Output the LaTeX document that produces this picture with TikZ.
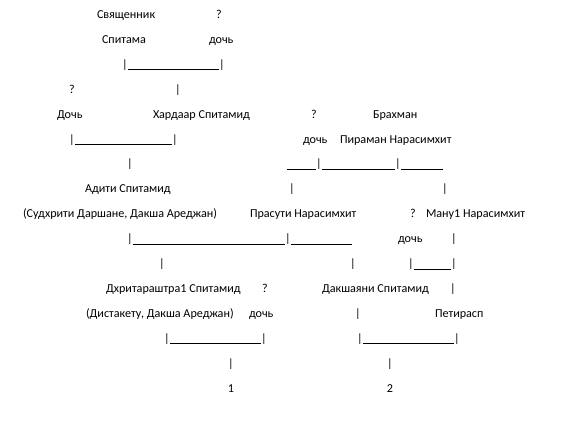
\documentclass[tikz,border=0pt]{standalone}
\usepackage{fontspec}
\setmainfont{Carlito}
\begin{document}
\begin{tikzpicture}[x=0.75pt,y=-0.75pt,
  every node/.style={inner sep=0pt,outer sep=0pt,font=\fontsize{9.1pt}{11pt}\selectfont},
  lbl/.style={anchor=base west},
  bar/.style={anchor=base},
  rul/.style={line width=0.6pt,black}]
\useasboundingbox[fill=white] (0,0) rectangle (582,428);
% row 1
\node[lbl] (svy) at (97,18.5) {Священник};
\node[bar] (q1) at (219,18.5) {?};
% row 2
\node[lbl] (spit) at (102,43.4) {Спитама};
\node[lbl] (doch1) at (209,43.4) {дочь};
% row 3
\node[bar] (p3a) at (125,68.3) {|};
\node[bar] (p3b) at (222,68.3) {|};
% row 4
\node[bar] (q2) at (72,93.2) {?};
\node[bar] (p4) at (178,93.2) {|};
% row 5
\node[lbl] (doch2) at (57,118.1) {Дочь};
\node[lbl] (hard) at (153,118.1) {Хардаар Спитамид};
\node[bar] (q3) at (314,118.1) {?};
\node[lbl] (brah) at (373,118.1) {Брахман};
% row 6
\node[bar] (p6a) at (72,143) {|};
\node[bar] (p6b) at (175,143) {|};
\node[lbl] (doch3) at (303,143) {дочь};
\node[lbl] (pir) at (340,143) {Пираман Нарасимхит};
% row 7
\node[bar] (p7a) at (130,167.9) {|};
\coordinate (c7s) at (287,167.9);
\node[bar] (p7b) at (319,167.9) {|};
\node[bar] (p7c) at (398,167.9) {|};
\coordinate (c7e) at (443,167.9);
% row 8
\node[lbl] (adi) at (85,192.8) {Адити Спитамид};
\node[bar] (p8a) at (292,192.8) {|};
\node[bar] (p8b) at (445,192.8) {|};
% row 9
\node[lbl] (sud) at (23,217.7) {(Судхрити Даршане, Дакша Ареджан)};
\node[lbl] (pras) at (250,217.7) {Прасути Нарасимхит};
\node[bar] (q4) at (413,217.7) {?};
\node[lbl] (manu) at (426,217.7) {Ману1 Нарасимхит};
% row 10
\node[bar] (p10a) at (130,242.6) {|};
\node[bar] (p10b) at (288,242.6) {|};
\coordinate (c10e) at (352,242.6);
\node[lbl] (doch4) at (398,242.6) {дочь};
\node[bar] (p10c) at (454,242.6) {|};
% row 11
\node[bar] (p11a) at (162,267.5) {|};
\node[bar] (p11b) at (353,267.5) {|};
\node[bar] (p11c) at (411,267.5) {|};
\node[bar] (p11d) at (454,267.5) {|};
% row 12
\node[lbl] (dhri) at (106,292.4) {Дхритараштра1 Спитамид};
\node[bar] (q5) at (265,292.4) {?};
\node[lbl] (daksh) at (322,292.4) {Дакшаяни Спитамид};
\node[bar] (p12) at (453,292.4) {|};
% row 13
\node[lbl] (dist) at (86,317.3) {(Дистакету, Дакша Ареджан)};
\node[lbl] (doch5) at (249,317.3) {дочь};
\node[bar] (p13) at (358,317.3) {|};
\node[lbl] (peti) at (435,317.3) {Петирасп};
% row 14
\node[bar] (p14a) at (167,342.2) {|};
\node[bar] (p14b) at (264,342.2) {|};
\node[bar] (p14c) at (360,342.2) {|};
\node[bar] (p14d) at (457,342.2) {|};
% row 15
\node[bar] (p15a) at (231,367.1) {|};
\node[bar] (p15b) at (390,367.1) {|};
% row 16
\node[bar] (n1) at (231,392) {1};
\node[bar] (n2) at (390,392) {2};
% underscore runs
\draw[rul] ([yshift=-1.1pt]p3a.base east) -- ([yshift=-1.1pt]p3b.base west);
\draw[rul] ([yshift=-1.1pt]p6a.base east) -- ([yshift=-1.1pt]p6b.base west);
\draw[rul] ([yshift=-1.1pt]c7s) -- ([yshift=-1.1pt]p7b.base west);
\draw[rul] ([yshift=-1.1pt]p7b.base east) -- ([yshift=-1.1pt]p7c.base west);
\draw[rul] ([yshift=-1.1pt]p7c.base east) -- ([yshift=-1.1pt]c7e);
\draw[rul] ([yshift=-1.1pt]p10a.base east) -- ([yshift=-1.1pt]p10b.base west);
\draw[rul] ([yshift=-1.1pt]p10b.base east) -- ([yshift=-1.1pt]c10e);
\draw[rul] ([yshift=-1.1pt]p11c.base east) -- ([yshift=-1.1pt]p11d.base west);
\draw[rul] ([yshift=-1.1pt]p14a.base east) -- ([yshift=-1.1pt]p14b.base west);
\draw[rul] ([yshift=-1.1pt]p14c.base east) -- ([yshift=-1.1pt]p14d.base west);
\end{tikzpicture}
\end{document}
